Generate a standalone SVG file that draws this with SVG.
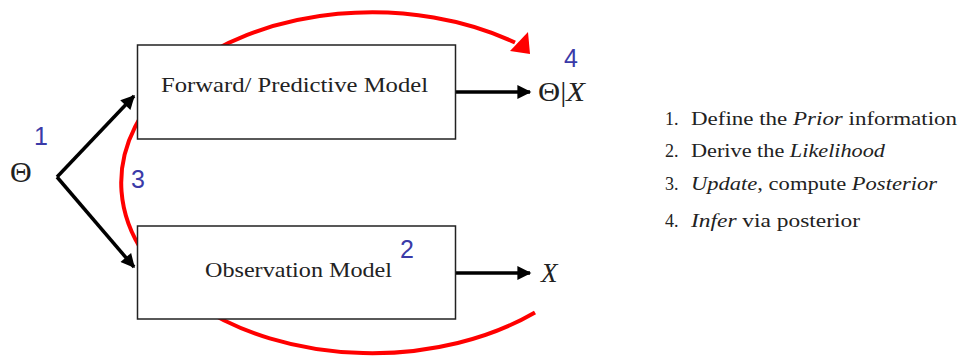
<svg xmlns="http://www.w3.org/2000/svg" width="961" height="358" viewBox="0 0 961 358">
<style>
.box{fill:#fff;stroke:#222;stroke-width:1.5}
.lbl{font-family:"Liberation Serif","Times New Roman",serif;fill:#222}
.num{font-family:"Liberation Sans",Arial,sans-serif;fill:#3a3aa8;font-size:25px}
.blk{stroke:#000;stroke-width:3.5;fill:none}
.red{stroke:#f00;stroke-width:4;fill:none}
.lst{font-family:"Liberation Serif","Times New Roman",serif;fill:#222;font-size:18px}
</style>
<defs>
<marker id="ah" viewBox="0 0 10 10" refX="9" refY="5" markerWidth="4.5" markerHeight="4" orient="auto" markerUnits="strokeWidth">
<path d="M0,0 L10,5 L0,10 z" fill="#000"/>
</marker>
</defs>
<rect width="961" height="358" fill="#fff"/>
<g id="connectors">
<path class="red" d="M 535 312.5 A 251 170.5 0 1 1 515 42.5"/>
<polygon points="528,32 510,51 530,54" fill="#f00"/>
<line class="blk" x1="57" y1="177" x2="134" y2="96" marker-end="url(#ah)"/>
<line class="blk" x1="57" y1="177" x2="134" y2="267" marker-end="url(#ah)"/>
<line class="blk" x1="456" y1="92" x2="530" y2="92" marker-end="url(#ah)"/>
<line class="blk" x1="456" y1="273" x2="530" y2="273" marker-end="url(#ah)"/>
</g>
<g id="forward-model">
<rect class="box" x="137.5" y="45" width="318" height="94"/>
<text class="lbl" x="161" y="92" font-size="21" textLength="267" lengthAdjust="spacingAndGlyphs">Forward/ Predictive Model</text>
</g>
<g id="observation-model">
<rect class="box" x="137.5" y="226" width="318" height="93"/>
<text class="lbl" x="205" y="277" font-size="21" textLength="187" lengthAdjust="spacingAndGlyphs">Observation Model</text>
</g>
<g id="theta">
<text class="lbl" x="10" y="182" font-size="30">Θ</text>
</g>
<g id="posterior">
<text class="lbl" x="538" y="101" font-size="28" textLength="47" lengthAdjust="spacingAndGlyphs">Θ|<tspan font-style="italic">X</tspan></text>
</g>
<g id="data">
<text class="lbl" x="541" y="282" font-size="27" font-style="italic">X</text>
</g>
<g id="step-numbers">
<text class="num" x="34" y="145">1</text>
<text class="num" x="400" y="258">2</text>
<text class="num" x="131" y="188">3</text>
<text class="num" x="564" y="67">4</text>
</g>
<g id="steps">
<text class="lst" x="665" y="125">1.</text>
<text class="lst" x="691" y="125" textLength="266" lengthAdjust="spacingAndGlyphs">Define the <tspan font-style="italic">Prior</tspan> information</text>
<text class="lst" x="665" y="157">2.</text>
<text class="lst" x="691" y="157" textLength="194" lengthAdjust="spacingAndGlyphs">Derive the <tspan font-style="italic">Likelihood</tspan></text>
<text class="lst" x="665" y="190">3.</text>
<text class="lst" x="691" y="190" textLength="246" lengthAdjust="spacingAndGlyphs"><tspan font-style="italic">Update</tspan>, compute <tspan font-style="italic">Posterior</tspan></text>
<text class="lst" x="665" y="227">4.</text>
<text class="lst" x="691" y="227" textLength="169" lengthAdjust="spacingAndGlyphs"><tspan font-style="italic">Infer</tspan> via posterior</text>
</g>
</svg>
